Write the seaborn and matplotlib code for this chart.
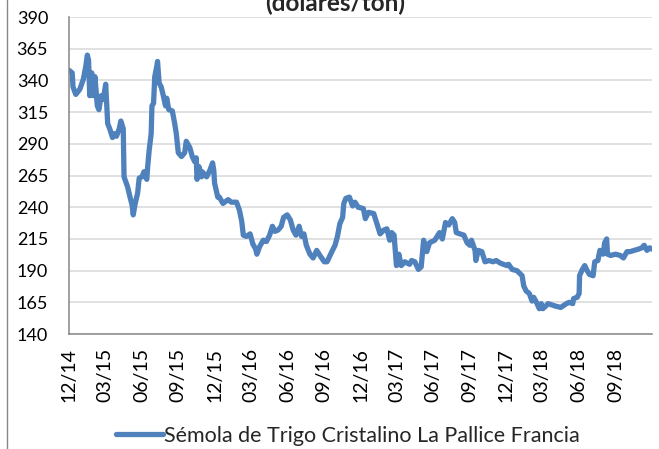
import pandas as pd
import matplotlib.pyplot as plt
from matplotlib.lines import Line2D
import seaborn as sns

# Datos (precio semanal aproximado, dólares/ton)
fechas = [
    "2014-12-01", "2014-12-09", "2014-12-11", "2014-12-18", "2014-12-28",
    "2015-01-06", "2015-01-12", "2015-01-16", "2015-01-19", "2015-01-22",
    "2015-01-27", "2015-01-31", "2015-02-04", "2015-02-10", "2015-02-14",
    "2015-02-20", "2015-02-25", "2015-03-03", "2015-03-08", "2015-03-13",
    "2015-03-20", "2015-03-24", "2015-03-30", "2015-04-06", "2015-04-10",
    "2015-04-16", "2015-04-18", "2015-04-27", "2015-05-03", "2015-05-08",
    "2015-05-11", "2015-05-16", "2015-05-22", "2015-05-26", "2015-06-02",
    "2015-06-07", "2015-06-14", "2015-06-16", "2015-06-20", "2015-06-25",
    "2015-06-27", "2015-07-01", "2015-07-04", "2015-07-09", "2015-07-11",
    "2015-07-15", "2015-07-20", "2015-07-24", "2015-07-31", "2015-08-03",
    "2015-08-08", "2015-08-17", "2015-08-23", "2015-08-27", "2015-09-01",
    "2015-09-09", "2015-09-17", "2015-09-21", "2015-09-30", "2015-10-06",
    "2015-10-12", "2015-10-16", "2015-10-18", "2015-10-23", "2015-10-29",
    "2015-10-31", "2015-11-11", "2015-11-19", "2015-11-26", "2015-11-29",
    "2015-12-01", "2015-12-09", "2015-12-13", "2015-12-22", "2016-01-04",
    "2016-01-12", "2016-01-25", "2016-02-01", "2016-02-07", "2016-02-11",
    "2016-02-19", "2016-02-28", "2016-03-06", "2016-03-13", "2016-03-16",
    "2016-03-23", "2016-04-01", "2016-04-09", "2016-04-17", "2016-04-24",
    "2016-04-30", "2016-05-08", "2016-05-16", "2016-05-22", "2016-05-31",
    "2016-06-08", "2016-06-15", "2016-06-22", "2016-06-30", "2016-07-06",
    "2016-07-12", "2016-07-18", "2016-07-27", "2016-08-04", "2016-08-13",
    "2016-08-21", "2016-09-01", "2016-09-08", "2016-09-14", "2016-09-20",
    "2016-09-28", "2016-10-04", "2016-10-10", "2016-10-17", "2016-10-20",
    "2016-10-25", "2016-11-03", "2016-11-11", "2016-11-17", "2016-11-25",
    "2016-12-08", "2016-12-13", "2016-12-21", "2017-01-03", "2017-01-11",
    "2017-01-19", "2017-01-28", "2017-02-05", "2017-02-12", "2017-02-17",
    "2017-02-23", "2017-02-26", "2017-03-01", "2017-03-07", "2017-03-13",
    "2017-03-22", "2017-04-03", "2017-04-08", "2017-04-16", "2017-04-25",
    "2017-05-02", "2017-05-08", "2017-05-16", "2017-05-23", "2017-06-05",
    "2017-06-17", "2017-06-24", "2017-07-02", "2017-07-10", "2017-07-19",
    "2017-07-25", "2017-07-29", "2017-08-07", "2017-08-17", "2017-08-25",
    "2017-09-01", "2017-09-05", "2017-09-14", "2017-09-16", "2017-09-22",
    "2017-10-01", "2017-10-09", "2017-10-19", "2017-10-29", "2017-11-06",
    "2017-11-16", "2017-11-24", "2017-12-03", "2017-12-07", "2017-12-16",
    "2017-12-28", "2018-01-10", "2018-01-14", "2018-01-20", "2018-01-28",
    "2018-02-04", "2018-02-08", "2018-02-15", "2018-02-22", "2018-02-27",
    "2018-03-03", "2018-03-10", "2018-03-16", "2018-04-04", "2018-04-17",
    "2018-05-01", "2018-05-08", "2018-05-17", "2018-05-19", "2018-05-28",
    "2018-06-02", "2018-06-03", "2018-06-10", "2018-06-16", "2018-06-22",
    "2018-06-28", "2018-07-07", "2018-07-11", "2018-07-19", "2018-07-24",
    "2018-08-01", "2018-08-05", "2018-08-10", "2018-08-12", "2018-08-20",
    "2018-09-01", "2018-09-13", "2018-09-21", "2018-09-30", "2018-10-08",
    "2018-10-18", "2018-10-29", "2018-11-06", "2018-11-12", "2018-11-19",
    "2018-11-26", "2018-12-01",
]
precios = [
    348, 346, 335, 329, 333,
    341, 351, 360, 356, 328,
    346, 328, 343, 320, 317,
    328, 325, 337, 306, 302,
    295, 298, 296, 302, 308,
    302, 264, 256, 248, 242,
    234, 243, 251, 263, 264,
    268, 262, 271, 285, 298,
    320, 322, 343, 351, 355,
    338, 335, 330, 320, 326,
    317, 316, 306, 298, 283,
    280, 283, 292, 287, 280,
    276, 279, 262, 272, 264,
    268, 264, 269, 275, 269,
    259, 248, 248, 243, 246,
    244, 244, 238, 229, 218,
    217, 219, 211, 207, 203,
    209, 214, 213, 218, 225,
    221, 222, 225, 232, 234,
    230, 222, 218, 225, 217,
    219, 210, 203, 200, 206,
    202, 197, 197, 201, 205,
    210, 217, 227, 232, 243,
    247, 248, 241, 244, 240,
    239, 231, 236, 235, 227,
    219, 222, 223, 214, 220,
    218, 206, 194, 203, 194,
    197, 195, 198, 197, 191,
    193, 214, 205, 212, 214,
    220, 215, 228, 226, 231,
    228, 220, 219, 218, 212,
    210, 214, 206, 198, 206,
    205, 197, 198, 197, 198,
    196, 195, 194, 195, 191,
    190, 186, 178, 174, 172,
    166, 169, 165, 160, 164,
    160, 162, 164, 162, 161,
    164, 165, 164, 168, 169,
    172, 186, 191, 194, 190,
    187, 186, 197, 198, 206,
    203, 212, 215, 203, 202,
    203, 202, 200, 205, 205,
    206, 207, 208, 210, 206,
    208, 207,
]
serie = "Sémola de Trigo Cristalino La Pallice Francia"
titulo = "(dólares/ton)"
y_ticks = [140, 165, 190, 215, 240, 265, 290, 315, 340, 365, 390]
x_ticks = pd.date_range("2014-12-01", "2018-12-01", freq="3MS")

df = pd.DataFrame({"fecha": pd.to_datetime(fechas), "precio": precios, "serie": serie})

sns.set_style("white")
plt.rcParams["font.family"] = ["Lato", "DejaVu Sans"]

fig = plt.figure(figsize=(6.59, 4.49), dpi=100)
ax = fig.add_axes([0.1047, 0.256, 0.8843, 0.706])

sns.lineplot(data=df, x="fecha", y="precio", hue="serie", palette=["#4F81BD"],
             linewidth=3.8, ax=ax, legend=False)

ax.set_ylim(140, 390)
ax.set_yticks(y_ticks)
ax.set_xlim(x_ticks[0], x_ticks[-1])
ax.set_xticks(x_ticks)
ax.set_xticklabels([d.strftime("%m/%y") for d in x_ticks[:-1]] + [""], rotation=90)
ax.set_xlabel("")
ax.set_ylabel("")
ax.grid(axis="y", color="#D9D9D9", linewidth=1.1)
ax.set_axisbelow(True)
for lado in ["top", "right"]:
    ax.spines[lado].set_visible(False)
for lado in ["left", "bottom"]:
    ax.spines[lado].set_color("#868686")
    ax.spines[lado].set_linewidth(1.1)
ax.tick_params(axis="both", direction="out", length=5, width=1, color="#868686",
               labelcolor="black")
ax.tick_params(axis="y", pad=10, labelsize=13)
ax.tick_params(axis="x", pad=5, labelsize=14)

# título cortado arriba, como en el original
fig.text(335 / 659, 1 - 11 / 449, titulo, ha="center", va="baseline",
         fontsize=17.5, fontweight="bold")

# borde izquierdo del área del gráfico
fig.add_artist(Line2D([7 / 659, 7 / 659], [0, 1], color="#868686", linewidth=1))

handle = Line2D([], [], color="#4F81BD", linewidth=3.8)
fig.legend([handle], [serie], loc="center", bbox_to_anchor=(348 / 659, 1 - 436 / 449),
           frameon=False, fontsize=15.5, handlelength=2.2, handletextpad=0.05)

fig.savefig("out.png", dpi=100)
